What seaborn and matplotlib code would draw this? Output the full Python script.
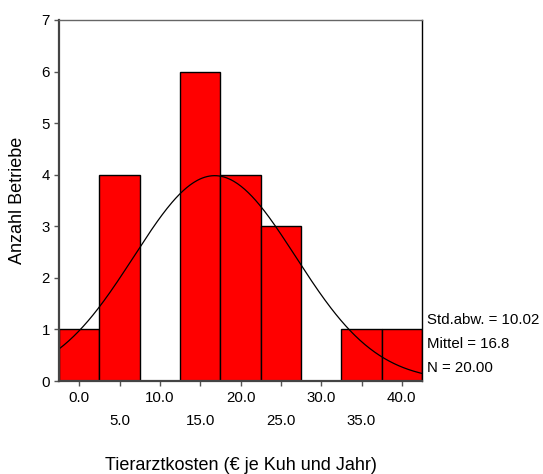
import matplotlib
matplotlib.use("Agg")
import matplotlib.pyplot as plt
import numpy as np
import pandas as pd
import seaborn as sns

# bin centres (EUR per cow and year) and number of farms per bin
bin_centers = [0.0, 5.0, 10.0, 15.0, 20.0, 25.0, 30.0, 35.0, 40.0]
counts = [1, 4, 0, 6, 4, 3, 0, 1, 1]
bin_width = 5.0

# summary statistics printed next to the chart
std_dev = 10.02
mean = 16.8
n_total = 20

major_ticks = [0.0, 10.0, 20.0, 30.0, 40.0]
minor_ticks = [5.0, 15.0, 25.0, 35.0]
y_ticks = [0, 1, 2, 3, 4, 5, 6, 7]


def main() -> None:
    sns.set_theme(style="white")
    plt.rcParams["font.family"] = ["Liberation Sans", "DejaVu Sans"]

    # one row per farm, placed at its bin centre
    df = pd.DataFrame({"kosten": np.repeat(bin_centers, counts)})
    edges = np.arange(bin_centers[0] - bin_width / 2,
                      bin_centers[-1] + bin_width, bin_width)

    fig = plt.figure(figsize=(5.43, 4.74), dpi=100)
    ax = fig.add_axes([0.1087, 0.196, 0.6685, 0.762])

    sns.histplot(
        data=df,
        x="kosten",
        bins=edges,
        color="#ff0000",
        edgecolor="black",
        linewidth=1.0,
        alpha=1.0,
        ax=ax,
    )

    # fitted normal curve, scaled to counts
    xs = np.linspace(edges[0], edges[-1], 300)
    ys = n_total * bin_width / (std_dev * np.sqrt(2 * np.pi)) * np.exp(
        -0.5 * ((xs - mean) / std_dev) ** 2
    )
    sns.lineplot(x=xs, y=ys, color="black", linewidth=0.9, ax=ax)

    ax.set_xlim(edges[0], edges[-1])
    ax.set_ylim(0, 7)
    ax.set_yticks(y_ticks)
    ax.set_yticklabels([str(t) for t in y_ticks])
    ax.set_xticks(major_ticks)
    ax.set_xticklabels([f"{t:.1f}" for t in major_ticks])
    ax.set_xticks(minor_ticks, minor=True)
    ax.set_xticklabels([f"{t:.1f}" for t in minor_ticks], minor=True)

    ax.tick_params(axis="both", which="both", direction="out", length=3.5,
                   width=1.0, color="#555555", labelsize=10.8,
                   labelcolor="black", bottom=True, left=True)
    ax.tick_params(axis="x", which="major", pad=3.5)
    ax.tick_params(axis="x", which="minor", pad=20)
    ax.tick_params(axis="y", pad=3)

    for side in ["left", "bottom"]:
        ax.spines[side].set_color("#444444")
        ax.spines[side].set_linewidth(1.6)
    ax.spines["top"].set_color("#666666")
    ax.spines["top"].set_linewidth(1.0)
    ax.spines["right"].set_color("black")
    ax.spines["right"].set_linewidth(1.0)

    ax.set_xlabel("Tierarztkosten (€ je Kuh und Jahr)", fontsize=13,
                  color="black", va="center")
    ax.xaxis.set_label_coords(0.5, (381 - 465) / 361)
    ax.set_ylabel("Anzahl Betriebe", fontsize=13, color="black", va="center")
    ax.yaxis.set_label_coords((17 - 59) / 363, 0.5)

    stats = [f"Std.abw. = {std_dev:.2f}", f"Mittel = {mean}",
             f"N = {n_total:.2f}"]
    for i, line in enumerate(stats):
        fig.text(427 / 543, 1 - (320 + 24 * i) / 474, line, fontsize=10.8,
                 va="center", ha="left", color="black")

    fig.savefig("out.png", dpi=100)
    plt.close(fig)


if __name__ == "__main__":
    main()
